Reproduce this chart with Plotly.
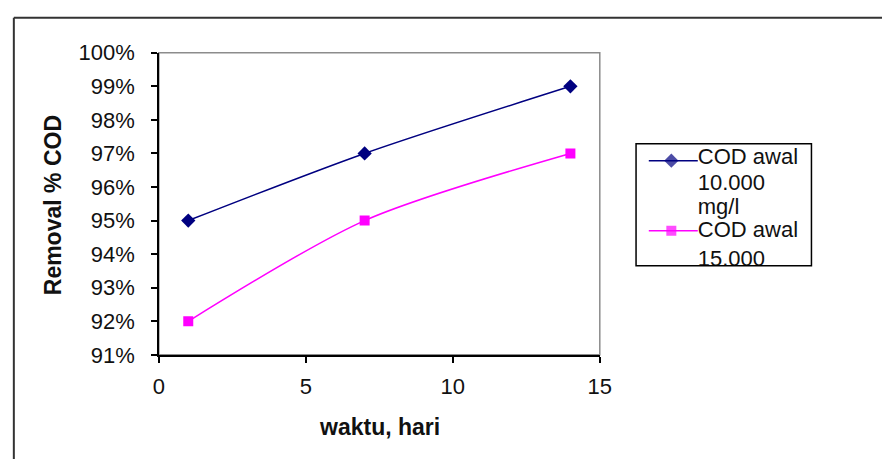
import plotly.graph_objects as go

# ---- data ----
days = [1, 7, 14]
series_names = ["COD awal 10.000 mg/l", "COD awal 15.000 mg/l"]
removal_10000 = [0.95, 0.97, 0.99]
removal_15000 = [0.92, 0.95, 0.97]
x_title = "waktu, hari"
y_title = "Removal % COD"

W, H = 894, 472
FONT = "Liberation Sans, Arial, sans-serif"
FS = 22
FS_T = 23

def px_x(p):
    return p / W

def px_y(p):
    return (H - p) / H

colors = ["#000080", "#FF00FF"]
symbols = ["diamond", "square"]
msizes = [11, 10]
values = [removal_10000, removal_15000]

fig = go.Figure()

for name, vals, c, s, ms in zip(series_names, values, colors, symbols, msizes):
    fig.add_trace(go.Scatter(
        x=days, y=vals, mode="lines+markers", name=name,
        line=dict(color=c, width=1.5, shape="spline", smoothing=0.8),
        marker=dict(color=c, symbol=s, size=ms, line=dict(width=0)),
        showlegend=False, xaxis="x", yaxis="y",
    ))

# ---- legend drawn in its own small subplot so the overflowing text is clipped ----
def wrap(name):
    parts = name.split(" ")
    return [" ".join(parts[:2])] + parts[2:]

line_y0 = [18, 92]
text_y = [[16, 43, 68], [93, 123, 150]]
for i, (name, c, s, ms) in enumerate(zip(series_names, colors, symbols, msizes)):
    yy = line_y0[i]
    fig.add_trace(go.Scatter(
        x=[13, 36, 63], y=[yy, yy, yy], mode="lines+markers",
        line=dict(color=c, width=1.5),
        marker=dict(color=c, symbol=s, size=[0, ms, 0], line=dict(width=0)),
        showlegend=False, xaxis="x2", yaxis="y2", hoverinfo="skip",
    ))
    lines = wrap(name)
    fig.add_trace(go.Scatter(
        x=[63] * len(lines), y=text_y[i][:len(lines)],
        mode="text", text=lines, textposition="middle right",
        textfont=dict(family=FONT, size=FS, color="#111111"),
        cliponaxis=True, showlegend=False, xaxis="x2", yaxis="y2",
        hoverinfo="skip",
    ))

axis_common = dict(
    showgrid=False, zeroline=False, showline=True, linecolor="black",
    linewidth=1.5, ticks="outside", ticklen=6, tickwidth=1.5,
    tickcolor="black", tickfont=dict(family=FONT, size=FS, color="#111111"),
)

fig.update_layout(
    width=W, height=H,
    margin=dict(l=0, r=0, t=0, b=0),
    paper_bgcolor="white", plot_bgcolor="white",
    xaxis=dict(domain=[px_x(156), px_x(606)], range=[0, 15], dtick=5,
               ticklabelstandoff=5, anchor="y", **axis_common),
    yaxis=dict(domain=[px_y(362), px_y(43)], range=[0.91, 1.0], dtick=0.01,
               tickformat=".0%", ticklabelstandoff=12, anchor="x",
               **axis_common),
    xaxis2=dict(domain=[px_x(643), px_x(822)], range=[0, 179],
                visible=False, anchor="y2", fixedrange=True),
    yaxis2=dict(domain=[px_y(268), px_y(139)], range=[129, 0],
                visible=False, anchor="x2", fixedrange=True),
    showlegend=False,
    shapes=[
        # plot area frame (gray top/right)
        dict(type="rect", xref="paper", yref="paper",
             x0=px_x(156), x1=px_x(606), y0=px_y(362), y1=px_y(43),
             line=dict(color="#8c8c8c", width=1.5), layer="below"),
        # legend box
        dict(type="rect", xref="paper", yref="paper",
             x0=px_x(643), x1=px_x(822), y0=px_y(268), y1=px_y(139),
             line=dict(color="black", width=1.5), layer="above"),
        # outer chart border (top and left visible)
        dict(type="line", xref="paper", yref="paper",
             x0=px_x(8), x1=px_x(894), y0=px_y(6), y1=px_y(6),
             line=dict(color="#333333", width=2)),
        dict(type="line", xref="paper", yref="paper",
             x0=px_x(8), x1=px_x(8), y0=px_y(6), y1=px_y(472),
             line=dict(color="#333333", width=2)),
    ],
    annotations=[
        dict(text="<b>%s</b>" % x_title, xref="paper", yref="paper",
             x=px_x(381), y=px_y(438), showarrow=False,
             xanchor="center", yanchor="middle",
             font=dict(family=FONT, size=FS_T, color="#111111")),
        dict(text="<b>%s</b>" % y_title, xref="paper", yref="paper",
             x=px_x(48), y=px_y(204), showarrow=False, textangle=-90,
             xanchor="center", yanchor="middle",
             font=dict(family=FONT, size=FS_T, color="#111111")),
    ],
)

fig.write_html(
    "out.html",
    config={"displayModeBar": False},
    post_script="document.body.style.margin='0';"
                "document.documentElement.style.overflow='hidden';",
)
